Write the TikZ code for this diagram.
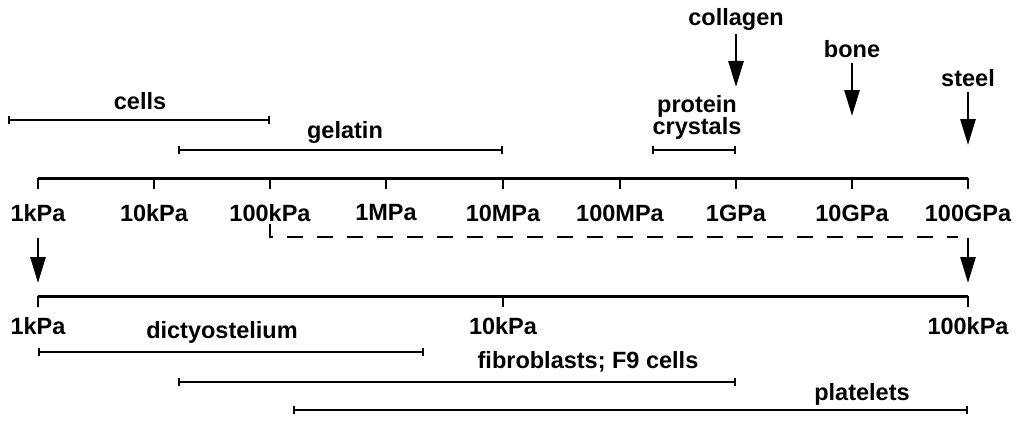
\documentclass[tikz,border=0pt]{standalone}
\usepackage{fontspec}
\setmainfont{Liberation Sans}
\usetikzlibrary{arrows.meta}
\begin{document}
\begin{tikzpicture}[x=1pt,y=-1pt,
  lbl/.style={font=\bfseries\fontsize{23.5}{25}\selectfont, inner sep=0pt},
  axis/.style={line width=3pt},
  rng/.style={line width=1.6pt,{Bar[width=8pt]}-{Bar[width=8pt]}},
  arr/.style={line width=2.8pt,-{Triangle[length=26pt,width=15pt]}}]
\useasboundingbox (0,0) rectangle (1036,436);
% top axis
\coordinate (tL) at (38,178); \coordinate (tR) at (968,178);
\draw[axis] (tL) -- (tR);
\foreach \x/\t [count=\i] in {38/1kPa,154/10kPa,270/100kPa,386/1MPa,503/10MPa,620/100MPa,736/1GPa,852/10GPa,968/100GPa}{
  \draw[line width=2.4pt] (\x,178) -- (\x,189);
  \node[lbl] (tk\i) at (\x,213) {\t};
}
% ranges top
\coordinate (c1) at (8,120); \coordinate (c2) at (270,120);
\draw[rng] (c1) -- (c2); \node[lbl] (cells) at (140,101) {cells};
\coordinate (g1) at (178,150); \coordinate (g2) at (503,150);
\draw[rng] (g1) -- (g2); \node[lbl] (gel) at (345,132) {gelatin};
\coordinate (p1) at (652,150); \coordinate (p2) at (736,150);
\draw[rng] (p1) -- (p2);
\node[lbl,align=center] (prot) at (697,117) {protein\\[-3pt]crystals};
% arrows
\node[lbl] (coll) at (736,19) {collagen};
\coordinate (coll1) at (736,34); \coordinate (coll2) at (736,87); \draw[arr] (coll1) -- (coll2);
\node[lbl] (bone) at (852,49) {bone};
\coordinate (bone1) at (852,63); \coordinate (bone2) at (852,116); \draw[arr] (bone1) -- (bone2);
\node[lbl] (steel) at (968,78) {steel};
\coordinate (st1) at (968,92); \coordinate (st2) at (968,145); \draw[arr] (st1) -- (st2);
% dashed
\coordinate (d1) at (270,224); \coordinate (d2) at (270,237); \coordinate (d3) at (958,237);
\draw[line width=2pt,dash pattern=on 16pt off 14pt] (d1) -- (d2) -- (d3);
\coordinate (a1) at (38,238); \coordinate (a1e) at (38,283);
\draw[arr] (a1) -- (a1e);
\coordinate (a2) at (968,238); \coordinate (a2e) at (968,283);
\draw[arr] (a2) -- (a2e);
% bottom axis
\coordinate (bL) at (38,296); \coordinate (bR) at (968,296);
\draw[axis] (bL) -- (bR);
\foreach \x/\t [count=\i] in {38/1kPa,503/10kPa,968/100kPa}{
  \draw[line width=2.4pt] (\x,296) -- (\x,307);
  \node[lbl] (bk\i) at (\x,326) {\t};
}
\coordinate (r1) at (38,352); \coordinate (r2) at (424,352);
\draw[rng] (r1) -- (r2); \node[lbl] (dict) at (222,332) {dictyostelium};
\coordinate (f1) at (178,382); \coordinate (f2) at (736,382);
\draw[rng] (f1) -- (f2); \node[lbl] (fib) at (588,362) {fibroblasts; F9 cells};
\coordinate (q1) at (293,410); \coordinate (q2) at (968,410);
\draw[rng] (q1) -- (q2); \node[lbl] (plat) at (862,394) {platelets};
\end{tikzpicture}
\end{document}
